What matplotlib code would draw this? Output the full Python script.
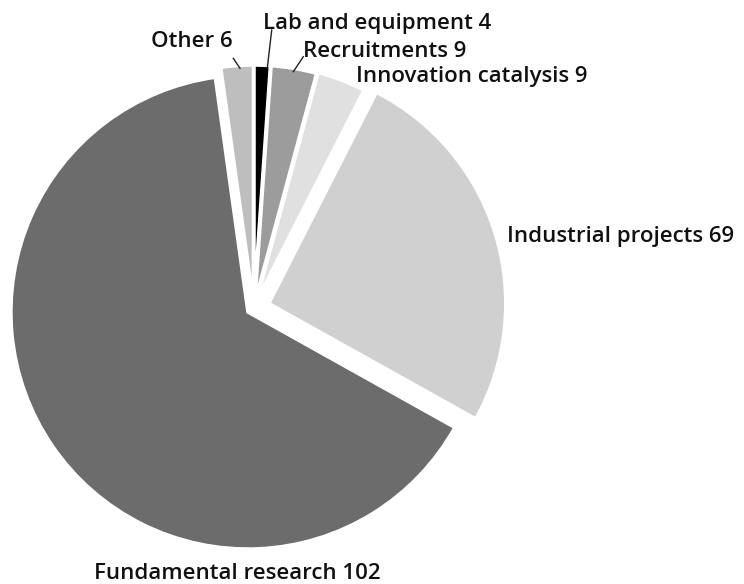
import numpy as np
import matplotlib
matplotlib.use("Agg")
import matplotlib.pyplot as plt

# =========================
# DATA
# =========================
categories = ["Lab and equipment", "Recruitments", "Innovation catalysis",
              "Industrial projects", "Fundamental research", "Other"]
counts = [4, 9, 9, 69, 102, 6]
# wedge shares (%)
shares = [1.1, 3.1, 3.3, 25.6, 64.7, 2.2]
colors = ["#000000", "#9c9c9c", "#e0e0e0", "#d0d0d0", "#6c6c6c", "#bebebe"]

# =========================
# STYLE
# =========================
plt.rcParams.update({
    "font.family": ["Open Sans", "DejaVu Sans"],
    "font.size": 16,
})

explode = [0.025, 0.025, 0.03, 0.066, 0.03, 0.025]

fig = plt.figure(figsize=(7.44, 5.84), dpi=100)
ax = fig.add_axes([0, 0, 1, 1])

# pie centre and radius in pixels
cx, cy, r = 253.8, 308, 237
wedges, _ = ax.pie(
    shares,
    colors=colors,
    explode=explode,
    startangle=90,
    counterclock=False,
    radius=1.0,
    wedgeprops={"edgecolor": "white", "linewidth": 2.5},
)

ax.set_xlim(-cx / r, (744 - cx) / r)
ax.set_ylim((cy - 584) / r, cy / r)
ax.set_aspect("auto")
ax.axis("off")


def px(x, y):
    return ((x - cx) / r, (cy - y) / r)


labels = [f"{c} {n}" for c, n in zip(categories, counts)]
text_kw = dict(fontsize=16, fontweight="semibold", color="#111111", va="baseline")

# label positions (pixel coords in reference)
ax.text(*px(263, 28.5), labels[0], ha="left", **text_kw)
ax.text(*px(303, 56.5), labels[1], ha="left", **text_kw)
ax.text(*px(356, 82), labels[2], ha="left", **text_kw)
ax.text(*px(507, 241.5), labels[3], ha="left", **text_kw)
ax.text(*px(237, 579), labels[4], ha="center", **text_kw)
ax.text(*px(233, 47), labels[5], ha="right", **text_kw)

# leader lines
for (x0, y0), (x1, y1) in [((271.7, 30), (267.3, 68)),
                           ((303.3, 56.7), (293.3, 71.7)),
                           ((233.3, 58.3), (240, 68.3))]:
    ax.plot(*zip(px(x0, y0), px(x1, y1)), color="#222222", lw=1)

fig.savefig("out.png", dpi=100)
